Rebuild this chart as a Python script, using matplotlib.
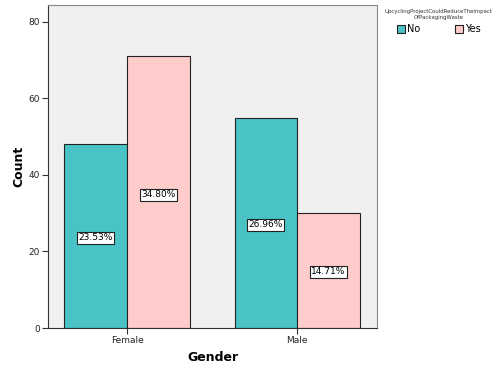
import matplotlib.pyplot as plt
import numpy as np

genders = ['Female', 'Male']
answers = ['No', 'Yes']
counts_no = [48, 55]
counts_yes = [71, 30]
pct_no = ['23.53%', '26.96%']
pct_yes = ['34.80%', '14.71%']
colors = ['#4AC3C6', '#FFCCCC']

fig = plt.figure(figsize=(5.03, 3.73), dpi=100)
ax = fig.add_axes([0.0954, 0.1206, 0.6541, 0.866])
ax.set_facecolor('#F0F0F0')

x = np.arange(len(genders))
w = 0.368
b1 = ax.bar(x - w / 2, counts_no, w, color=colors[0], edgecolor='#222222', linewidth=0.8, label=answers[0])
b2 = ax.bar(x + w / 2, counts_yes, w, color=colors[1], edgecolor='#222222', linewidth=0.8, label=answers[1])

box = dict(boxstyle='square,pad=0.15', facecolor='white', edgecolor='#222222', linewidth=0.8)
for i in range(len(genders)):
    # label sits at the height of its own percentage, like SPSS does
    ax.text(x[i] - w / 2, float(pct_no[i][:-1]), pct_no[i], ha='center', va='center', fontsize=6.5, bbox=box)
    ax.text(x[i] + w / 2, float(pct_yes[i][:-1]), pct_yes[i], ha='center', va='center', fontsize=6.5, bbox=box)

ax.set_xlim(-0.465, 1.47)
ax.set_ylim(0, 84.4)
ax.set_yticks([0, 20, 40, 60, 80])
ax.set_xticks(x)
ax.set_xticklabels(genders)
ax.tick_params(labelsize=6.5, length=4, width=0.8, color='#333333', labelcolor='#222222', pad=2)
for s in ['left', 'bottom']:
    ax.spines[s].set_color('#333333')
for s in ['top', 'right']:
    ax.spines[s].set_color('#888888')

ax.set_xlabel('Gender', fontsize=9, fontweight='bold', labelpad=4)
ax.set_ylabel('Count', fontsize=9, fontweight='bold', labelpad=2)

leg = fig.legend(handles=[b1, b2], labels=answers, ncol=2, loc='upper center',
                 bbox_to_anchor=(0.872, 1.0), frameon=False, fontsize=7,
                 title='UpcyclingProjectCouldReduceTheImpact\nOfPackagingWaste',
                 title_fontsize=3.9, handlelength=0.8, handleheight=0.8,
                 handletextpad=0.2, columnspacing=3.6)
leg._legend_box.align = 'center'
leg.get_title().set_multialignment('center')
leg.get_title().set_color('#333333')

fig.savefig('out.png', dpi=100)
